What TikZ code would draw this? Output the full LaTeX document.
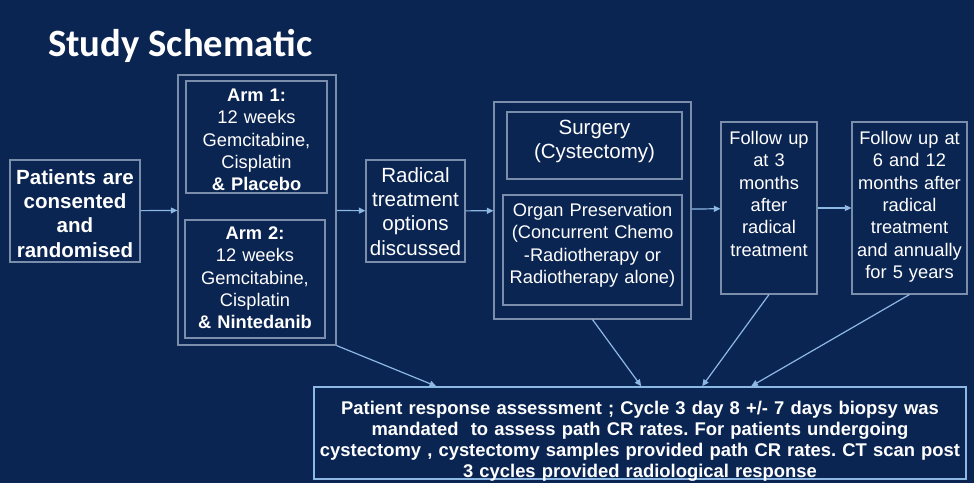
\documentclass[tikz,border=0pt]{standalone}
\usepackage{fontspec}
\setmainfont{Liberation Sans}
\newfontfamily\titlefont{Carlito}
\usetikzlibrary{arrows.meta}
\definecolor{cNavy}{RGB}{11,37,82}
\definecolor{cEdge}{RGB}{122,142,172}
\definecolor{cArrow}{RGB}{142,184,228}
\frenchspacing
\tikzset{
	bx/.style     ={draw=cEdge, line width=0.8pt, inner sep=0pt, align=center, text=white},
	frame/.style  ={draw=cEdge, line width=0.8pt, inner sep=0pt},
	txtsm/.style  ={font=\fontsize{13.7}{16.7}\selectfont},
	txtbig/.style ={font=\fontsize{15.4}{18.3}\selectfont},
	txtbigbf/.style={font=\bfseries\fontsize{15.4}{18.3}\selectfont},
	txtresp/.style={font=\bfseries\fontsize{13.8}{15.75}\selectfont},
	flow/.style   ={-{Triangle[length=5pt,width=4.5pt]}, draw=cArrow, line width=0.9pt},
}
\begin{document}
\begin{tikzpicture}[x=0.75pt, y=-0.75pt]
	\fill[cNavy] (0,0) rectangle (974,483);
	\node[anchor=base west, inner sep=0pt, text=white, font=\titlefont\bfseries\fontsize{29}{34}\selectfont] (title) at (48,56) {Study Schematic};
	% boxes
	\node[bx, txtbigbf, text width=97.5pt, text height=18pt, text depth=58.5pt] (pat) at (75,211) {Patients are\\consented\\and\\randomised};
	\node[frame, minimum width=118.5pt, minimum height=202.5pt] (armout) at (257,210) {};
	\node[bx, txtsm, text width=105.75pt, text height=15.5pt, text depth=68.5pt] (arm1) at (256.5,137) {\textbf{Arm 1:}\\12 weeks\\Gemcitabine,\\Cisplatin\\\textbf{\& Placebo}};
	\node[bx, txtsm, text width=105pt, text height=14.7pt, text depth=73.8pt] (arm2) at (255,279) {\textbf{Arm 2:}\\12 weeks\\Gemcitabine,\\Cisplatin\\\textbf{\& Nintedanib}};
	\node[bx, txtbig, text width=74.25pt, text height=16.5pt, text depth=60pt] (rad) at (415.5,211) {Radical\\treatment\\options\\discussed};
	\node[frame, minimum width=147.75pt, minimum height=162.75pt] (trtout) at (592.5,210.5) {};
	\node[bx, txtbig, text width=131.25pt, text height=16.5pt, text depth=33.75pt] (surg) at (594.5,145.5) {Surgery\\(Cystectomy)};
	\node[bx, txtsm, text width=134.25pt, text height=16.1pt, text depth=66.4pt] (organ) at (592.5,250) {Organ Preservation\\(Concurrent Chemo\\-Radiotherapy or\\Radiotherapy alone)};
	\node[bx, txtsm, text width=72pt, text height=17pt, text depth=112pt] (fu1) at (769,208) {Follow up\\at 3\\months\\after\\radical\\treatment};
	\node[bx, txtsm, text width=86.25pt, text height=17pt, text depth=112pt] (fu2) at (909.5,208) {Follow up at\\6 and 12\\months after\\radical\\treatment\\and annually\\for 5 years};
	\node[bx, txtresp, draw=cArrow, line width=1.2pt, text width=489pt, text height=20.25pt, text depth=48.75pt] (resp) at (640,433) {Patient response assessment ; Cycle 3 day 8 +/- 7 days biopsy was\\mandated\ \ to assess path CR rates. For patients undergoing\\\mbox{cystectomy , cystectomy samples provided path CR rates. CT scan post}\\3 cycles provided radiological response};
	% connectors
	\draw[flow] (pat) -- (armout);
	\draw[flow] (armout) -- (rad);
	\draw[flow] (rad) -- (trtout);
	\draw[flow] (trtout) -- (fu1);
	\draw[flow] (fu1) -- (fu2);
	\draw[flow] (armout.south east) -- ([shift={(123,0)}]resp.north west);
	\draw[flow] (trtout.south) -- ([shift={(328,0)}]resp.north west);
	\draw[flow] (fu1.south) -- ([shift={(389,0)}]resp.north west);
	\draw[flow] (fu2.south) -- ([shift={(438,0)}]resp.north west);
\end{tikzpicture}
\end{document}
